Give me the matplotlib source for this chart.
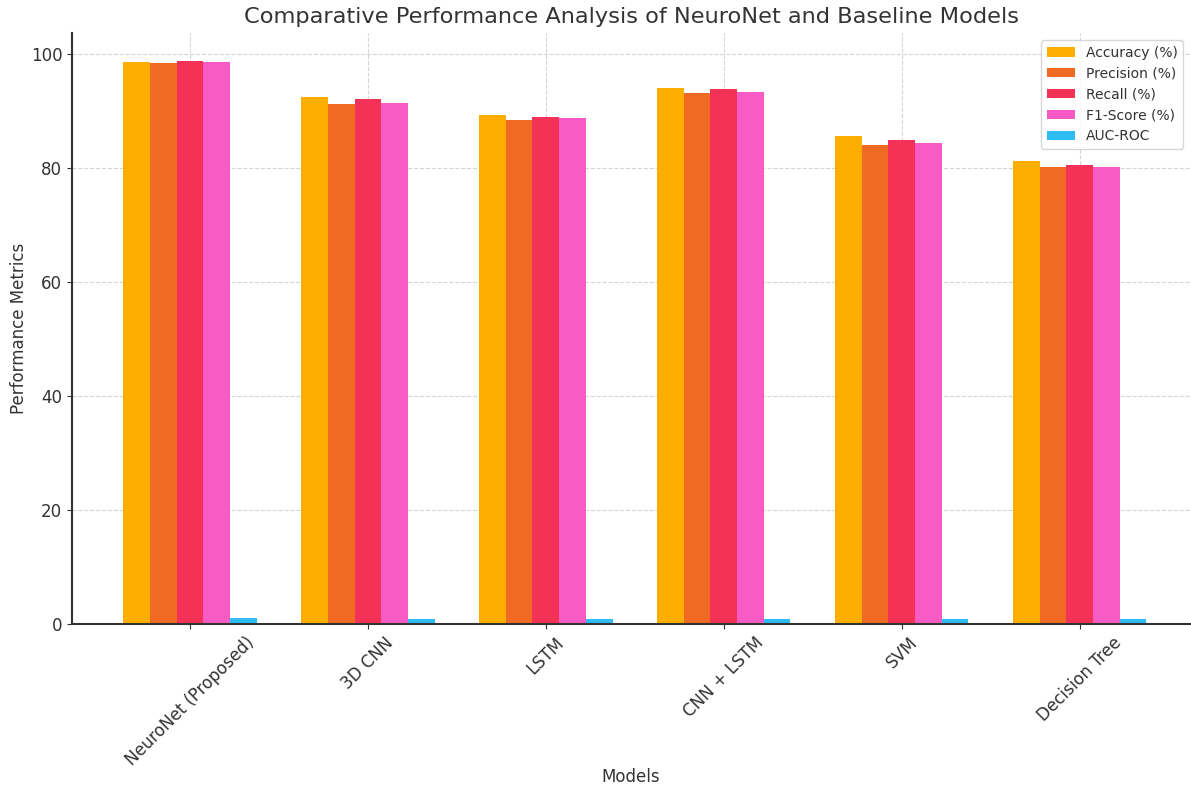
import numpy as np
import matplotlib
matplotlib.use("Agg")
import matplotlib.pyplot as plt

models = ["NeuroNet (Proposed)", "3D CNN", "LSTM", "CNN + LSTM", "SVM", "Decision Tree"]
accuracy = [98.6, 92.5, 89.3, 94.1, 85.7, 81.2]
precision = [98.5, 91.2, 88.5, 93.2, 84.0, 80.1]
recall = [98.7, 92.1, 89.0, 93.8, 85.0, 80.5]
f1_score = [98.6, 91.5, 88.7, 93.4, 84.4, 80.2]
auc_roc = [0.99, 0.95, 0.93, 0.96, 0.90, 0.88]

series = [
    ("Accuracy (%)", accuracy, "#FEAE00"),
    ("Precision (%)", precision, "#F06A24"),
    ("Recall (%)", recall, "#F43257"),
    ("F1-Score (%)", f1_score, "#F95BC4"),
    ("AUC-ROC", auc_roc, "#2EBCF5"),
]

text_color = "#333333"
plt.rcParams.update({
    "font.family": "DejaVu Sans",
    "text.color": text_color,
    "axes.labelcolor": text_color,
    "xtick.color": text_color,
    "ytick.color": text_color,
    "axes.edgecolor": text_color,
})

fig = plt.figure(figsize=(11.91, 7.88), dpi=100)
ax = fig.add_axes([72 / 1191, 1 - 624 / 788, (1190 - 72) / 1191, (624 - 33) / 788])

x = np.arange(len(models))
width = 0.15
for i, (label, values, color) in enumerate(series):
    ax.bar(x + (i - 2) * width, values, width, label=label, color=color, zorder=2)

ax.set_xticks(x)
ax.set_xticklabels(models, rotation=45, fontsize=12)
ax.tick_params(axis="y", labelsize=12)
ax.set_xlim(-0.6625, 5.62)
ax.set_ylim(0, 103.7)
ax.set_xlabel("Models", fontsize=12, labelpad=-1)
ax.set_ylabel("Performance Metrics", fontsize=12, labelpad=2)
ax.set_title("Comparative Performance Analysis of NeuroNet and Baseline Models",
             fontsize=16.2, pad=7)

ax.grid(True, linestyle="--", color="#d4d4d4", linewidth=0.8, zorder=0)
ax.set_axisbelow(True)
for side in ("top", "right"):
    ax.spines[side].set_visible(False)
ax.spines["left"].set_linewidth(1.5)
ax.spines["bottom"].set_linewidth(1.5)

ax.legend(loc="upper right", fontsize=10, frameon=True, edgecolor="#cccccc")

fig.savefig("out.png", dpi=100)
